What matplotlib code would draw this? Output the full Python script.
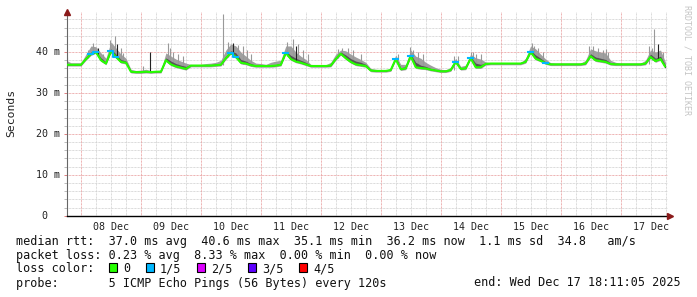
import numpy as np
import matplotlib
matplotlib.use("Agg")
import matplotlib.pyplot as plt
from matplotlib.patches import Rectangle

# ---------------- data (hours since 08 Dec 00:00, 2-hour samples) ----------------
hours = np.arange(-6, 236, 2)

median_ms = [
    36.9, 36.9, 36.9, 36.9, 38.3, 39.5, 40.0, 38.0, 37.2, 40.2, 38.8, 37.6, 37.4, 35.2, 35.1,
    35.1, 35.2, 35.1, 35.2, 35.2, 38.0, 37.0, 36.5, 36.2, 35.9, 36.7, 36.7,
    36.7, 36.7, 36.7, 36.8, 36.9, 38.5, 39.8, 38.8, 37.4, 37.2, 36.8, 36.6,
    36.6, 36.6, 36.6, 36.7, 36.9, 39.8, 38.3, 37.7, 37.4, 37.0, 36.6, 36.6,
    36.6, 36.6, 36.7, 38.3, 39.6, 38.5, 37.6, 37.0, 36.8, 36.6, 35.5, 35.4,
    35.4, 35.4, 35.6, 38.3, 35.8, 36.0, 39.0, 36.3, 36.1, 36.0, 35.7, 35.5,
    35.3, 35.3, 35.6, 37.6, 35.9, 36.0, 38.5, 36.3, 36.3, 37.1, 37.2, 37.2,
    37.2, 37.2, 37.2, 37.2, 37.2, 37.6, 40.0, 38.4, 37.9, 37.3, 37.0, 37.0,
    37.0, 37.0, 37.0, 37.0, 37.0, 37.2, 39.0, 38.0, 37.8, 37.6, 37.1, 37.0,
    37.0, 37.0, 37.0, 37.0, 37.0, 37.2, 38.8, 37.8, 38.3, 36.3,
]
loss_count = [
    0, 0, 0, 0, 0, 1, 1, 0, 0, 1, 1, 0, 0, 0, 0,
    0, 0, 0, 0, 0, 0, 0, 0, 0, 0, 0, 0,
    0, 0, 0, 0, 0, 0, 1, 1, 0, 0, 0, 0,
    0, 0, 0, 0, 0, 1, 0, 0, 0, 0, 0, 0,
    0, 0, 0, 0, 0, 0, 0, 0, 0, 0, 0, 0,
    0, 0, 0, 1, 0, 0, 1, 0, 0, 0, 0, 0,
    0, 0, 0, 1, 0, 0, 1, 0, 0, 0, 0, 0,
    0, 0, 0, 0, 0, 0, 1, 0, 0, 1, 0, 0,
    0, 0, 0, 0, 0, 0, 0, 0, 0, 0, 0, 0,
    0, 0, 0, 0, 0, 0, 0, 0, 0, 0,
]
smoke_hi = [
    38.0, 37.4, 37.4, 37.4, 39.5, 41.5, 41.3, 39.8, 38.5, 42.5, 41.0, 39.5, 38.5, 35.8, 35.5,
    35.6, 35.8, 35.5, 35.5, 35.6, 39.8, 39.0, 38.3, 37.8, 37.3, 37.0, 37.0,
    37.0, 37.2, 37.3, 37.5, 38.0, 40.5, 42.0, 41.5, 40.0, 39.0, 38.0, 37.3,
    37.2, 37.0, 37.5, 37.8, 38.0, 41.5, 41.5, 40.0, 39.0, 38.2, 37.0, 36.9,
    36.9, 36.9, 37.5, 39.5, 40.5, 40.3, 39.5, 38.8, 38.2, 37.5, 36.0, 35.8,
    35.6, 35.6, 36.0, 39.3, 37.0, 37.0, 40.5, 39.0, 38.5, 37.5, 36.8, 36.2,
    35.8, 35.7, 36.2, 38.5, 36.5, 36.8, 39.5, 38.6, 38.3, 37.6, 37.4, 37.4,
    37.4, 37.4, 37.4, 37.4, 37.4, 38.5, 41.5, 40.8, 39.5, 38.3, 37.4, 37.3,
    37.3, 37.3, 37.3, 37.3, 37.3, 38.0, 40.8, 40.3, 40.0, 39.8, 38.0, 37.5,
    37.3, 37.3, 37.3, 37.3, 37.3, 38.0, 40.5, 40.0, 40.5, 37.5,
]
smoke_dark = [
    37.1, 37.1, 37.0, 37.0, 38.8, 40.0, 40.3, 38.6, 37.6, 40.8, 39.5, 38.2, 37.8, 35.5, 35.3,
    35.3, 35.4, 35.3, 35.3, 35.4, 38.6, 37.8, 37.2, 36.8, 36.5, 36.9, 36.8,
    36.8, 36.8, 36.8, 36.9, 37.2, 39.0, 40.3, 39.8, 38.2, 37.8, 37.2, 36.8,
    36.8, 36.7, 36.8, 36.9, 37.2, 40.2, 39.2, 38.5, 38.0, 37.5, 36.8, 36.7,
    36.7, 36.7, 36.9, 38.8, 40.0, 39.3, 38.4, 37.8, 37.5, 37.0, 35.8, 35.6,
    35.5, 35.5, 35.8, 38.7, 36.2, 36.4, 39.5, 37.5, 36.8, 36.5, 36.0, 35.7,
    35.5, 35.5, 35.8, 38.0, 36.2, 36.3, 38.9, 37.3, 37.0, 37.3, 37.3, 37.3,
    37.3, 37.3, 37.3, 37.3, 37.3, 38.0, 40.4, 39.3, 38.5, 37.6, 37.2, 37.1,
    37.1, 37.1, 37.1, 37.1, 37.1, 37.5, 39.6, 38.8, 38.5, 38.2, 37.4, 37.2,
    37.1, 37.1, 37.1, 37.1, 37.1, 37.6, 39.5, 38.5, 39.0, 36.8,
]

# thin single-sample spikes in the smoke
spike_t = [-5.5, 3, 5, 7, 9, 11.5, 13.5, 14.5, 16, 17, 25, 27.6, 34.8, 35.5, 37, 39, 41,
           57, 59, 60.8, 63, 65, 66.5, 68, 82.5, 84.7, 86, 87, 89, 91,
           103, 104.5, 107, 109, 112, 127, 131.7, 133, 135, 137,
           149.5, 151, 156, 157, 158, 160, 180.5, 181.5, 183, 185,
           203.5, 205, 207, 209, 210, 211, 227.5, 228.5, 229.5, 231, 233]
spike_lo = [36.9, 38.5, 39.5, 39.0, 37.5, 39.5, 38.8, 38.5, 37.6, 37.5, 35.1, 35.1, 37.5, 37.8, 36.8, 36.4, 36.1,
            36.9, 38.8, 39.5, 38.2, 37.2, 37.0, 36.7, 39.0, 38.3, 37.8, 37.5, 37.2, 36.8,
            38.5, 39.0, 38.5, 37.3, 36.7, 37.0, 38.5, 38.0, 36.2, 36.0,
            35.6, 36.5, 38.5, 37.5, 36.3, 36.3, 39.5, 39.0, 38.1, 37.6,
            38.5, 38.5, 37.9, 37.7, 37.6, 37.3, 37.0, 38.0, 37.8, 38.0, 37.2]
spike_hi = [38.7, 40.5, 42.3, 41.0, 39.5, 43.0, 44.0, 42.0, 41.0, 39.8, 36.5, 40.0, 42.3, 41.0, 40.0, 39.5, 39.0,
            49.2, 42.5, 42.2, 41.8, 41.4, 40.5, 39.5, 42.5, 43.2, 41.5, 42.0, 40.5, 39.5,
            40.8, 41.0, 41.0, 40.5, 39.5, 39.5, 41.2, 40.5, 40.0, 39.5,
            39.0, 39.0, 40.0, 40.0, 39.5, 39.5, 42.3, 41.5, 41.0, 40.0,
            41.4, 41.5, 41.0, 40.5, 40.8, 40.0, 41.5, 41.0, 45.7, 42.0, 40.0]
spike_dark = [0, 0, 0, 1, 0, 0, 0, 1, 0, 0, 0, 1, 0, 0, 0, 0, 0,
              0, 0, 1, 0, 0, 0, 0, 0, 0, 1, 0, 0, 0,
              0, 0, 0, 0, 0, 0, 0, 0, 0, 0,
              0, 0, 0, 0, 0, 0, 0, 0, 0, 0,
              0, 0, 0, 0, 0, 0, 0, 0, 0, 1, 0]

day_labels = ["08 Dec", "09 Dec", "10 Dec", "11 Dec", "12 Dec",
              "13 Dec", "14 Dec", "15 Dec", "16 Dec", "17 Dec"]
y_ticks = [0, 10, 20, 30, 40]
y_tick_labels = ["0", "10 m", "20 m", "30 m", "40 m"]

loss_labels = ["0", "1/5", "2/5", "3/5", "4/5"]
loss_colors = ["#26ff00", "#00b8ff", "#dd00ff", "#5e00ff", "#ff0000"]

legend_rtt = "median rtt:  37.0 ms avg  40.6 ms max  35.1 ms min  36.2 ms now  1.1 ms sd  34.8   am/s"
legend_loss = "packet loss: 0.23 % avg  8.33 % max  0.00 % min  0.00 % now"
legend_probe = "probe:       5 ICMP Echo Pings (56 Bytes) every 120s"
legend_end = "end: Wed Dec 17 18:11:05 2025"

# ---------------- figure ----------------
W, H = 697, 297
fig = plt.figure(figsize=(W / 100, H / 100), dpi=100)
fig.patch.set_facecolor("white")
MONO = "DejaVu Sans Mono"

def fx(px):
    return px / W

def fy(py):
    return 1 - py / H

x0, x1, y0, y1 = 66.5, 668, 215.7, 12
YMAX = 49.8
ax = fig.add_axes([fx(x0), fy(y0), fx(x1) - fx(x0), fy(y1) - fy(y0)])
ax.set_xlim(-5.8, 235.0)
ax.set_ylim(0, YMAX)

med = np.array(median_ms)
loss = np.array(loss_count)

# grid
dots = (0, (0.72, 0.72))
for h in np.arange(-6, 236, 6):
    if h % 24 != 0 and -5.8 < h < 235:
        ax.axvline(h, color="#cfcfcf", lw=0.72, ls=dots, zorder=0)
for v in np.arange(2, 50, 2):
    if v % 10 != 0:
        ax.axhline(v, color="#cfcfcf", lw=0.72, ls=dots, zorder=0)
for d in range(10):
    ax.axvline(d * 24, color="#e89a9a", lw=0.72, ls=dots, zorder=0.5)
for v in y_ticks[1:]:
    ax.axhline(v, color="#e89a9a", lw=0.72, ls=dots, zorder=0.5)

# smoke
ax.fill_between(hours, med - 0.3, smoke_hi, color="#a0a0a0", lw=0, zorder=1)
ax.fill_between(hours, med, smoke_dark, color="#555555", lw=0, zorder=2)
for t, lo, hi, dk in zip(spike_t, spike_lo, spike_hi, spike_dark):
    ax.vlines(t, lo, hi, color="#222222" if dk else "#999999", lw=0.8,
              zorder=2.5 if dk else 1.5)

# median line
ax.plot(hours, med, color="#111111", lw=0.7, zorder=3)
ax.plot(hours, med, color=loss_colors[0], lw=1.5, zorder=4, solid_capstyle="butt")
for k in range(1, 5):
    m = np.ma.masked_where(loss != k, med)
    ax.plot(hours, m, drawstyle="steps-mid", color=loss_colors[k], lw=1.5, zorder=5)

# axes
for s in ["top", "right"]:
    ax.spines[s].set_visible(False)
ax.spines["left"].set_color("#666666")
ax.spines["left"].set_linewidth(0.8)
ax.spines["bottom"].set_color("#000000")
ax.spines["bottom"].set_linewidth(1.0)
ax.set_xticks([d * 24 + 12 for d in range(10)])
ax.set_xticklabels(day_labels, family=MONO, fontsize=7.2, color="#222222")
ax.tick_params(axis="x", length=0, pad=4.5)
ax.set_yticks(y_ticks)
ax.set_yticklabels([])
ax.tick_params(axis="y", length=2, color="#e08080", width=0.7)
ax.set_yticks(np.arange(2, 50, 2), minor=True)
ax.tick_params(axis="y", which="minor", length=2, color="#bbbbbb", width=0.7)

for v, lab in zip(y_ticks, y_tick_labels):
    xr = 59.5 if lab != "0" else 47.5
    fig.text(fx(xr), fy(y0 - v * (y0 - y1) / YMAX), lab, family=MONO, fontsize=7.2,
             ha="right", va="center", color="#222222")

# arrows
ax.plot([0], [1.0], transform=ax.transAxes, marker="^", ms=4, color="#8b1a1a", clip_on=False, zorder=10)
ax.plot([1.004], [0], transform=ax.transAxes, marker=">", ms=4, color="#8b1a1a", clip_on=False, zorder=10)

fig.text(fx(11), fy(113), "Seconds", family=MONO, fontsize=8.2, rotation=90,
         ha="center", va="center", color="#222222")
fig.text(fx(687), fy(5), "RRDTOOL / TOBI OETIKER", family=MONO, fontsize=6,
         rotation=270, ha="center", va="top", color="#c4c4c4")

# legend
fs = 8.5
fig.text(fx(16), fy(241), legend_rtt, family=MONO, fontsize=fs, va="center", color="#111111")
fig.text(fx(16), fy(255), legend_loss, family=MONO, fontsize=fs, va="center", color="#111111")
fig.text(fx(16), fy(269), "loss color:", family=MONO, fontsize=fs, va="center", color="#111111")
box_x = [109, 146, 197, 248, 299]
text_x = [123, 160, 211, 262, 313]
for bx, tx, lab, col in zip(box_x, text_x, loss_labels, loss_colors):
    fig.patches.append(Rectangle((fx(bx), fy(272)), 8 / W, 9 / H, transform=fig.transFigure,
                                 facecolor=col, edgecolor="black", lw=0.8))
    fig.text(fx(tx), fy(269), lab, family=MONO, fontsize=fs, va="center", color="#111111")
fig.text(fx(16), fy(283), legend_probe, family=MONO, fontsize=fs, va="center", color="#111111")
fig.text(fx(681), fy(283), legend_end, family=MONO, fontsize=fs, va="center", ha="right", color="#111111")

fig.savefig("out.png", dpi=100, facecolor="white")
